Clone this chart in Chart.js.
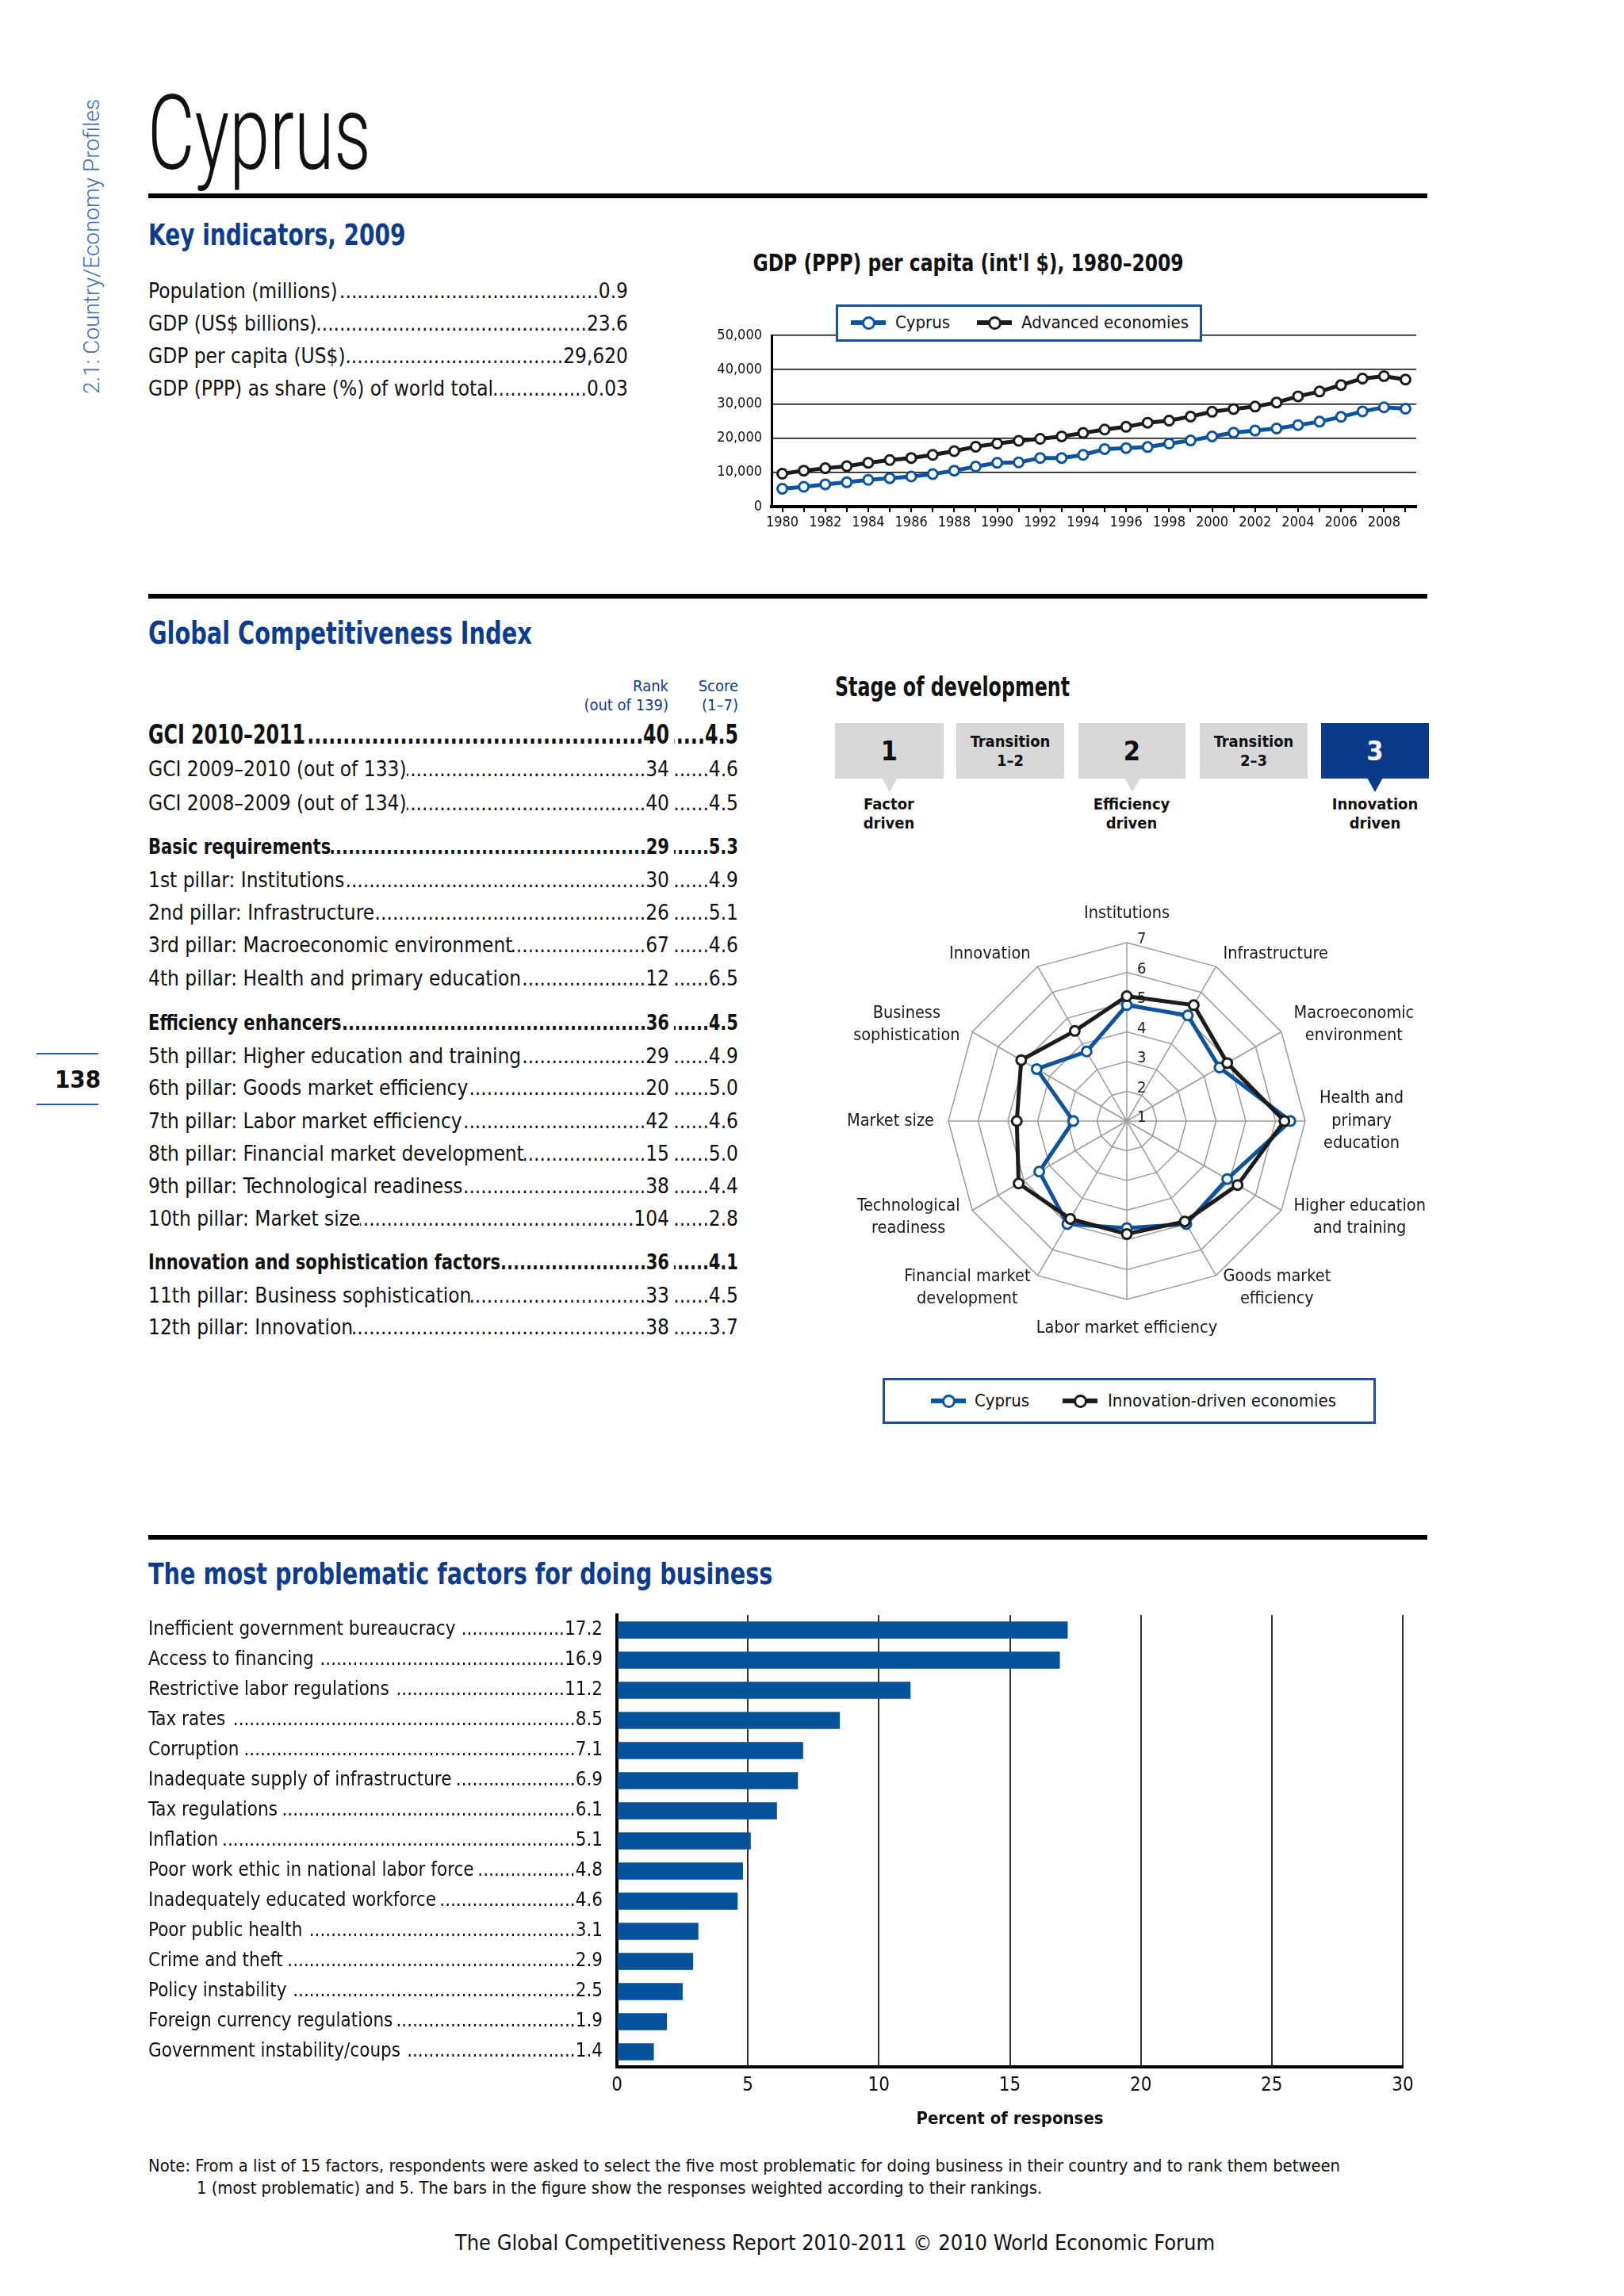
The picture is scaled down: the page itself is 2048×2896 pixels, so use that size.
<!DOCTYPE html>
<html>
<head>
<meta charset="utf-8">
<title>Cyprus</title>
<script src="https://cdn.jsdelivr.net/npm/chart.js@4.4.1/dist/chart.umd.min.js"></script>
<style>
  html, body { margin: 0; padding: 0; background: #fff; }
  #page { position: relative; width: 2048px; height: 2896px; overflow: hidden;
          font-family: "Liberation Sans Narrow", "DejaVu Sans Condensed", sans-serif; color: #111; }
  .t { position: absolute; white-space: nowrap; line-height: 1; }
  .rule { position: absolute; left: 187px; width: 1613px; height: 6px; background: #000; }
  .row { position: absolute; display: flex; align-items: baseline; white-space: nowrap; line-height: 1.2;
         transform-origin: left center; }
  .dots { flex: 1 1 0; min-width: 0; overflow: hidden; direction: rtl; }
  .box { position: absolute; top: 912px; height: 70px; background: #d8d8db; display: flex; flex-direction: column;
         align-items: center; justify-content: center; font-weight: bold; line-height: 1.2; font-size: 20px; }
  .tri { position: absolute; top: 981px; width: 0; height: 0; border-left: 10px solid transparent;
         border-right: 10px solid transparent; border-top: 18px solid #d8d8db; }
  .legend { position: absolute; background: #fff; border: 3px solid #1d4f9c; box-sizing: border-box; }
  .ln { position: absolute; height: 6px; }
  .ring { position: absolute; width: 11px; height: 11px; border-radius: 50%; background: #fff; border: 3px solid; }
  canvas { position: absolute; }
</style>
</head>
<body>
<div id="page"></div>
<script>
const FONT = '"Liberation Sans Narrow", "DejaVu Sans Condensed", sans-serif';
const HEAD_BLUE = '#0d3c8e';
const CY_BLUE = '#0c549c';
const DARK = '#1c1c1c';

// Key indicators, 2009
const keyLabels = ['Population (millions)', 'GDP (US$ billions)', 'GDP per capita (US$)', 'GDP (PPP) as share (%) of world total'];
const keyValues = ['0.9', '23.6', '29,620', '0.03'];

// GDP (PPP) per capita (int'l $)
const years = [1980, 1981, 1982, 1983, 1984, 1985, 1986, 1987, 1988, 1989,
               1990, 1991, 1992, 1993, 1994, 1995, 1996, 1997, 1998, 1999,
               2000, 2001, 2002, 2003, 2004, 2005, 2006, 2007, 2008, 2009];
const cyprusGdp = [5200, 5800, 6500, 7100, 7800, 8300, 8800, 9500, 10500, 11700,
                   12800, 12900, 14200, 14200, 15100, 16800, 17100, 17400, 18400, 19300,
                   20500, 21600, 22200, 22800, 23800, 24800, 26200, 27800, 29000, 28600];
const advancedGdp = [9600, 10500, 11200, 11800, 12800, 13600, 14200, 15100, 16200, 17500,
                     18400, 19200, 19800, 20500, 21500, 22500, 23300, 24500, 25100, 26300,
                     27700, 28500, 29200, 30400, 32200, 33600, 35500, 37400, 38100, 37100];

// Global Competitiveness Index table
const gciLabels = ['GCI 2010–2011', 'GCI 2009–2010 (out of 133)', 'GCI 2008–2009 (out of 134)',
  'Basic requirements', '1st pillar: Institutions', '2nd pillar: Infrastructure',
  '3rd pillar: Macroeconomic environment', '4th pillar: Health and primary education',
  'Efficiency enhancers', '5th pillar: Higher education and training', '6th pillar: Goods market efficiency',
  '7th pillar: Labor market efficiency', '8th pillar: Financial market development',
  '9th pillar: Technological readiness', '10th pillar: Market size',
  'Innovation and sophistication factors', '11th pillar: Business sophistication', '12th pillar: Innovation'];
const gciRanks = ['40', '34', '40', '29', '30', '26', '67', '12', '36', '29', '20', '42', '15', '38', '104', '36', '33', '38'];
const gciScores = ['4.5', '4.6', '4.5', '5.3', '4.9', '5.1', '4.6', '6.5', '4.5', '4.9', '5.0', '4.6', '5.0', '4.4', '2.8', '4.1', '4.5', '3.7'];

// Radar: 12 pillars
const pillars = [['Institutions'], ['Infrastructure'], ['Macroeconomic', 'environment'],
  ['Health and', 'primary', 'education'], ['Higher education', 'and training'], ['Goods market', 'efficiency'],
  ['Labor market efficiency'], ['Financial market', 'development'], ['Technological', 'readiness'],
  ['Market size'], ['Business', 'sophistication'], ['Innovation']];
const cyprusScores = [4.9, 5.1, 4.6, 6.5, 4.9, 5.0, 4.6, 5.0, 4.4, 2.8, 4.5, 3.7];
const innovationScores = [5.2, 5.5, 4.9, 6.3, 5.3, 4.9, 4.8, 4.8, 5.2, 4.7, 5.1, 4.5];
const radarTicks = [1, 2, 3, 4, 5, 6, 7];

// Most problematic factors
const factors = ['Inefficient government bureaucracy', 'Access to financing', 'Restrictive labor regulations',
  'Tax rates', 'Corruption', 'Inadequate supply of infrastructure', 'Tax regulations', 'Inflation',
  'Poor work ethic in national labor force', 'Inadequately educated workforce', 'Poor public health',
  'Crime and theft', 'Policy instability', 'Foreign currency regulations', 'Government instability/coups'];
const factorValues = [17.2, 16.9, 11.2, 8.5, 7.1, 6.9, 6.1, 5.1, 4.8, 4.6, 3.1, 2.9, 2.5, 1.9, 1.4];

const page = document.getElementById('page');

function put(x, y, text, o = {}) {
  const d = document.createElement('div');
  d.className = 't';
  d.textContent = text;
  d.style.left = x + 'px';
  d.style.top = y + 'px';
  d.style.fontSize = (o.size || 26) + 'px';
  if (o.bold) d.style.fontWeight = 'bold';
  if (o.color) d.style.color = o.color;
  if (o.family) d.style.fontFamily = o.family;
  if (o.weight) d.style.fontWeight = o.weight;
  const k = o.k || 1;
  const tx = o.align === 'right' ? '-100%' : o.align === 'center' ? '-50%' : '0';
  if (o.transform) {
    d.style.transformOrigin = 'center center';
    d.style.transform = o.transform;
  } else {
    d.style.transformOrigin = (o.align === 'right' ? 'right' : o.align === 'center' ? 'center' : 'left') + ' center';
    d.style.transform = `translate(${tx}, -50%) scaleX(${k})`;
  }
  page.appendChild(d);
  return d;
}

function leader(x1, x2, y, label, value, o = {}) {
  const k = o.k || 1;
  const d = document.createElement('div');
  d.className = 'row';
  d.style.left = x1 + 'px';
  d.style.width = ((x2 - x1) / k) + 'px';
  d.style.top = y + 'px';
  d.style.transform = `translateY(-50%) scaleX(${k})`;
  d.style.fontSize = (o.size || 26) + 'px';
  if (o.bold) d.style.fontWeight = 'bold';
  const a = document.createElement('span'); a.textContent = label;
  const b = document.createElement('span'); b.className = 'dots'; b.textContent = '.'.repeat(300);
  const c = document.createElement('span'); c.textContent = value;
  d.append(a, b, c);
  page.appendChild(d);
}

function rule(y) {
  const d = document.createElement('div');
  d.className = 'rule';
  d.style.top = (y - 3) + 'px';
  page.appendChild(d);
}

function legendItem(x, y, color, text, textX) {
  const l = document.createElement('div');
  l.className = 'ln';
  l.style.left = x + 'px'; l.style.top = (y - 3) + 'px'; l.style.width = '44px'; l.style.background = color;
  const r = document.createElement('div');
  r.className = 'ring';
  r.style.left = (x + 22 - 8) + 'px'; r.style.top = (y - 8) + 'px'; r.style.borderColor = color;
  page.append(l, r);
  put(textX, y, text, { size: 22 });
}

function legendBox(x, y, w, h) {
  const b = document.createElement('div');
  b.className = 'legend';
  Object.assign(b.style, { left: x + 'px', top: y + 'px', width: w + 'px', height: h + 'px' });
  page.appendChild(b);
}

function makeCanvas(left, top, w, h) {
  const c = document.createElement('canvas');
  c.width = w; c.height = h;
  c.style.left = left + 'px'; c.style.top = top + 'px';
  c.style.width = w + 'px'; c.style.height = h + 'px';
  page.appendChild(c);
  return c;
}

// ---- header ----
put(116, 311, '2.1: Country/Economy Profiles', { size: 28, color: '#3e6eb4', family: 'Roboto', weight: 300,
  transform: 'translate(-50%, -50%) rotate(-90deg)' });
put(186, 168, 'Cyprus', { size: 131, family: 'Roboto', weight: 300, k: 0.7 });
rule(247);

put(187, 296, 'Key indicators, 2009', { size: 38, bold: true, color: HEAD_BLUE, k: 0.82 });
const keyY = [368, 409, 450, 491];
keyLabels.forEach((s, i) => leader(187, 792, keyY[i], s, keyValues[i], { size: 26 }));

put(1221, 331, "GDP (PPP) per capita (int'l $), 1980–2009", { size: 31, bold: true, align: 'center', k: 0.84 });

rule(752);
put(187, 798, 'Global Competitiveness Index', { size: 39, bold: true, color: HEAD_BLUE, k: 0.82 });

put(843, 865, 'Rank', { size: 20, color: HEAD_BLUE, align: 'right' });
put(843, 889, '(out of 139)', { size: 20, color: HEAD_BLUE, align: 'right' });
put(931, 865, 'Score', { size: 20, color: HEAD_BLUE, align: 'right' });
put(931, 889, '(1–7)', { size: 20, color: HEAD_BLUE, align: 'right' });

const gciY = [927, 971, 1014, 1069, 1111, 1152, 1193, 1235, 1291, 1333, 1373, 1415, 1456, 1497, 1538, 1593, 1635, 1675];
const gciBold = [0, 3, 8, 15];
gciLabels.forEach((s, i) => {
  const bold = gciBold.includes(i);
  const size = i === 0 ? 33 : 26;
  const k = i === 0 ? 0.8 : bold ? 0.9 : 1;
  leader(187, 844, gciY[i], s, gciRanks[i], { size, bold, k });
  leader(850, 931, gciY[i], '', gciScores[i], { size, bold, k });
});

// page number
put(98, 1361, '138', { size: 31, bold: true, align: 'center' });
[1328, 1392].forEach(y => {
  const d = document.createElement('div');
  Object.assign(d.style, { position: 'absolute', left: '46px', width: '78px', top: y + 'px', height: '2px', background: '#2a5aa8' });
  page.appendChild(d);
});

// ---- stage of development ----
put(1053, 866, 'Stage of development', { size: 33, bold: true, k: 0.8 });
const stageBoxes = [[1053, 137, ['1'], 34], [1206, 136, ['Transition', '1–2'], 20], [1360, 135, ['2'], 34],
                    [1513, 136, ['Transition', '2–3'], 20], [1666, 136, ['3'], 34]];
stageBoxes.forEach(([x, w, lines, fs], i) => {
  const b = document.createElement('div');
  b.className = 'box';
  b.style.left = x + 'px'; b.style.width = w + 'px'; b.style.fontSize = fs + 'px';
  if (i === 4) { b.style.background = '#0a3a8a'; b.style.color = '#fff'; }
  lines.forEach(s => { const sp = document.createElement('div'); sp.textContent = s; b.appendChild(sp); });
  page.appendChild(b);
  if (i % 2 === 0) {
    const t = document.createElement('div');
    t.className = 'tri';
    t.style.left = (x + w / 2 - 10) + 'px';
    if (i === 4) t.style.borderTopColor = '#0a3a8a';
    page.appendChild(t);
  }
});
[[1121, 'Factor'], [1427, 'Efficiency'], [1734, 'Innovation']].forEach(([x, s]) => {
  put(x, 1014, s, { size: 20, bold: true, align: 'center' });
  put(x, 1038, 'driven', { size: 20, bold: true, align: 'center' });
});

// ---- problematic factors ----
rule(1939);
put(187, 1985, 'The most problematic factors for doing business', { size: 38, bold: true, color: HEAD_BLUE, k: 0.84 });
put(187, 2732, 'Note: From a list of 15 factors, respondents were asked to select the five most problematic for doing business in their country and to rank them between', { size: 21.8 });
put(248, 2760, '1 (most problematic) and 5. The bars in the figure show the responses weighted according to their rankings.', { size: 21.8 });
put(1053, 2828, 'The Global Competitiveness Report 2010-2011 © 2010 World Economic Forum', { size: 27, align: 'center' });

Chart.defaults.font.family = FONT;
Chart.defaults.color = '#111';

// ---- GDP line chart ----
const gdpCanvas = makeCanvas(880, 380, 920, 310);
new Chart(gdpCanvas, {
  type: 'line',
  data: {
    labels: years,
    datasets: [
      { label: 'Advanced economies', data: advancedGdp, borderColor: DARK, borderWidth: 5,
        pointRadius: 6, pointBorderWidth: 3, pointBackgroundColor: '#fff', pointBorderColor: DARK, tension: 0 },
      { label: 'Cyprus', data: cyprusGdp, borderColor: CY_BLUE, borderWidth: 5,
        pointRadius: 6, pointBorderWidth: 3, pointBackgroundColor: '#fff', pointBorderColor: CY_BLUE, tension: 0 }
    ]
  },
  options: {
    responsive: false, animation: false, devicePixelRatio: 1,
    layout: { padding: { top: 43, right: 14, left: 0, bottom: 0 } },
    plugins: { legend: { display: false }, tooltip: { enabled: false } },
    scales: {
      x: {
        offset: true,
        grid: { drawOnChartArea: false, drawTicks: true, tickLength: 7, color: '#000', lineWidth: 2 },
        border: { display: true, color: '#000', width: 4 },
        ticks: { autoSkip: false, maxRotation: 0, color: '#111', font: { size: 18 }, padding: 3,
                 callback: (v, i) => (years[i] % 2 === 0 ? String(years[i]) : '') },
        afterFit: s => { s.height = 51; }
      },
      y: {
        min: 0, max: 50000,
        ticks: { stepSize: 10000, color: '#111', font: { size: 18 }, padding: 12,
                 callback: v => v.toLocaleString('en-US') },
        grid: { color: '#000', lineWidth: 1.5, drawTicks: false },
        border: { display: true, color: '#000', width: 3 },
        afterFit: s => { s.width = 93; }
      }
    }
  }
});
legendBox(1054, 384, 462, 47);
legendItem(1073, 407, CY_BLUE, 'Cyprus', 1129);
legendItem(1232, 407, DARK, 'Advanced economies', 1288);

// ---- radar ----
const radarLabels = {
  id: 'radarLabels',
  beforeDatasetsDraw(chart) {
    const r = chart.scales.r, ctx = chart.ctx;
    ctx.save();
    ctx.font = '20px ' + FONT;
    ctx.fillStyle = '#222';
    ctx.textAlign = 'left';
    ctx.textBaseline = 'middle';
    radarTicks.forEach(v => {
      const d = r.getDistanceFromCenterForValue(v);
      ctx.fillText(String(v), r.xCenter + 13, r.yCenter - d - 4);
    });
    ctx.restore();
  },
  afterDatasetsDraw(chart) {
    const r = chart.scales.r, ctx = chart.ctx;
    const n = pillars.length, lh = 28.5;
    ctx.save();
    ctx.font = '21.5px ' + FONT;
    ctx.fillStyle = '#1a1a1a';
    ctx.textAlign = 'center';
    ctx.textBaseline = 'middle';
    pillars.forEach((lines, i) => {
      const pad = (i === 0 || i === n / 2) ? 22 : 18;
      const p = r.getPointPosition(i, r.drawingArea + pad);
      const w = Math.max(...lines.map(s => ctx.measureText(s).width));
      const h = lines.length * lh;
      let cx, top;
      if (i === 0) { cx = p.x; top = p.y - h; }
      else if (i === n / 2) { cx = p.x; top = p.y; }
      else if (i < n / 2) { cx = p.x + w / 2; top = p.y - h / 2; }
      else { cx = p.x - w / 2; top = p.y - h / 2; }
      lines.forEach((s, k) => ctx.fillText(s, cx, top + lh * (k + 0.5)));
    });
    ctx.restore();
  }
};

const radarCanvas = makeCanvas(1021, 1120, 800, 580);
new Chart(radarCanvas, {
  type: 'radar',
  data: {
    labels: pillars,
    datasets: [
      { label: 'Cyprus', data: cyprusScores, order: 1, borderColor: CY_BLUE, borderWidth: 5, fill: false,
        pointRadius: 6, pointBorderWidth: 3, pointBackgroundColor: '#fff', pointBorderColor: CY_BLUE },
      { label: 'Innovation-driven economies', data: innovationScores, order: 0, borderColor: DARK, borderWidth: 5, fill: false,
        pointRadius: 6, pointBorderWidth: 3, pointBackgroundColor: '#fff', pointBorderColor: DARK }
    ]
  },
  options: {
    responsive: false, animation: false, devicePixelRatio: 1,
    layout: { padding: { top: 69, bottom: 61, left: 0, right: 0 } },
    plugins: { legend: { display: false }, tooltip: { enabled: false } },
    scales: {
      r: {
        min: 1, max: 7,
        ticks: { display: false, stepSize: 1 },
        grid: { color: '#9b9b9b', lineWidth: 1.5 },
        angleLines: { color: '#9b9b9b', lineWidth: 1.5 },
        pointLabels: { display: false }
      }
    }
  },
  plugins: [radarLabels]
});
legendBox(1113, 1738, 622, 58);
legendItem(1174, 1767, CY_BLUE, 'Cyprus', 1229);
legendItem(1340, 1767, DARK, 'Innovation-driven economies', 1397);

// ---- bar chart ----
const barLeft = 170;
const factorLabels = {
  id: 'factorLabels',
  afterDraw(chart) {
    const ctx = chart.ctx, y = chart.scales.y;
    const xl = 187 - barLeft, xr = 760 - barLeft;
    ctx.save();
    ctx.font = '24px ' + FONT;
    ctx.fillStyle = '#111';
    ctx.textBaseline = 'middle';
    const dw = ctx.measureText('.').width;
    factors.forEach((name, i) => {
      const py = y.getPixelForValue(i);
      const val = factorValues[i].toFixed(1);
      ctx.textAlign = 'left';
      ctx.fillText(name, xl, py);
      ctx.textAlign = 'right';
      ctx.fillText(val, xr, py);
      const start = xl + ctx.measureText(name).width + 3;
      const end = xr - ctx.measureText(val).width;
      const count = Math.max(0, Math.floor((end - start) / dw));
      ctx.fillText('.'.repeat(count), end, py);
    });
    ctx.restore();
  }
};

const barCanvas = makeCanvas(barLeft, 2020, 1630, 680);
new Chart(barCanvas, {
  type: 'bar',
  data: {
    labels: factors,
    datasets: [{ data: factorValues, backgroundColor: '#04519c', barThickness: 21 }]
  },
  options: {
    indexAxis: 'y',
    responsive: false, animation: false, devicePixelRatio: 1,
    layout: { padding: { left: 600, top: 17, right: 31, bottom: 0 } },
    plugins: { legend: { display: false }, tooltip: { enabled: false } },
    scales: {
      x: {
        min: 0, max: 30,
        ticks: { stepSize: 5, padding: 9, color: '#111', font: { size: 24 } },
        grid: { color: '#333', lineWidth: 2, drawTicks: false },
        border: { display: true, color: '#000', width: 4 },
        title: { display: true, text: 'Percent of responses', color: '#111',
                 font: { size: 22, weight: 'bold' }, padding: { top: 4, bottom: 14 } },
        afterFit: s => { s.height = 93; }
      },
      y: {
        ticks: { display: false },
        grid: { display: false, drawTicks: false },
        border: { display: true, color: '#000', width: 4 },
        afterFit: s => { s.width = 8; }
      }
    }
  },
  plugins: [factorLabels]
});
</script>
</body>
</html>
